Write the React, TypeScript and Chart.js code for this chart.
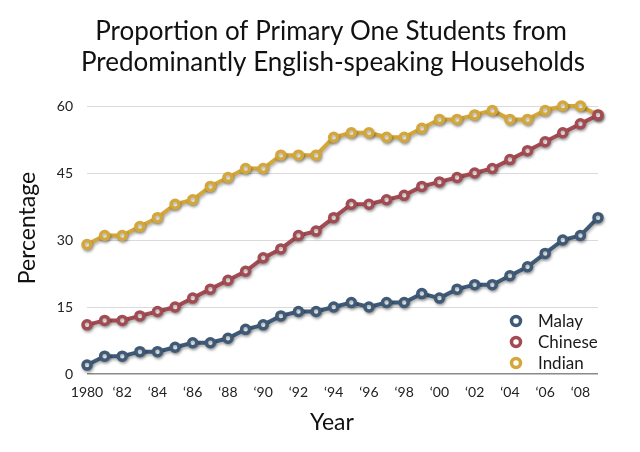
import React, { useEffect, useRef } from 'react';
import { Chart, registerables } from 'chart.js';

Chart.register(...registerables);

const years = [
  '1980', '1981', '1982', '1983', '1984', '1985', '1986', '1987', '1988', '1989',
  '1990', '1991', '1992', '1993', '1994', '1995', '1996', '1997', '1998', '1999',
  '2000', '2001', '2002', '2003', '2004', '2005', '2006', '2007', '2008', '2009',
];
const xTickLabels = ['1980', '‘82', '‘84', '‘86', '‘88', '‘90', '‘92', '‘94', '‘96', '‘98', '‘00', '‘02', '‘04', '‘06', '‘08'];
const yTickValues = [0, 15, 30, 45, 60];

const malay = [2, 4, 4, 5, 5, 6, 7, 7, 8, 10, 11, 13, 14, 14, 15, 16, 15, 16, 16, 18, 17, 19, 20, 20, 22, 24, 27, 30, 31, 35];
const chinese = [11, 12, 12, 13, 14, 15, 17, 19, 21, 23, 26, 28, 31, 32, 35, 38, 38, 39, 40, 42, 43, 44, 45, 46, 48, 50, 52, 54, 56, 58];
const indian = [29, 31, 31, 33, 35, 38, 39, 42, 44, 46, 46, 49, 49, 49, 53, 54, 54, 53, 53, 55, 57, 57, 58, 59, 57, 57, 59, 60, 60, 58];

const seriesNames = ['Malay', 'Chinese', 'Indian'];
const seriesColors = ['#3e5a77', '#a34b53', '#d3a73a'];

const titleLines = ['Proportion of Primary One Students from', 'Predominantly English-speaking Households'];
const xTitle = 'Year';
const yTitle = 'Percentage';

const FONT = 'Lato, "Open Sans", sans-serif';

export default function App() {
  const canvasRef = useRef<HTMLCanvasElement | null>(null);

  useEffect(() => {
    document.body.style.margin = '0';
    const canvas = canvasRef.current;
    if (!canvas) return;

    const shadowPlugin = {
      id: 'lineShadow',
      beforeDatasetsDraw(chart: any) {
        const ctx = chart.ctx;
        ctx.save();
        ctx.shadowColor = 'rgba(0,0,0,0.3)';
        ctx.shadowBlur = 3;
        ctx.shadowOffsetX = 1;
        ctx.shadowOffsetY = 2;
      },
      afterDatasetsDraw(chart: any) {
        chart.ctx.restore();
      },
    };

    const textPlugin = {
      id: 'customText',
      afterDraw(chart: any) {
        const ctx = chart.ctx as CanvasRenderingContext2D;
        ctx.save();
        // Title
        ctx.fillStyle = '#111';
        ctx.textAlign = 'center';
        ctx.textBaseline = 'alphabetic';
        ctx.font = `26px ${FONT}`;
        ctx.fillText(titleLines[0], 331, 40);
        ctx.fillText(titleLines[1], 333, 71);
        // X axis title
        ctx.font = `23px ${FONT}`;
        ctx.fillText(xTitle, 332, 430);
        // Y axis title
        ctx.save();
        ctx.translate(35, 228);
        ctx.rotate(-Math.PI / 2);
        ctx.font = `23px ${FONT}`;
        ctx.fillText(yTitle, 0, 0);
        ctx.restore();
        // Legend
        ctx.textAlign = 'left';
        ctx.textBaseline = 'middle';
        ctx.font = `17px ${FONT}`;
        seriesNames.forEach((name, i) => {
          const y = 321 + 21 * i;
          ctx.beginPath();
          ctx.arc(516, y, 4.5, 0, Math.PI * 2);
          ctx.fillStyle = '#fff';
          ctx.fill();
          ctx.lineWidth = 3.5;
          ctx.strokeStyle = seriesColors[i];
          ctx.stroke();
          ctx.fillStyle = '#1a1a1a';
          ctx.fillText(name, 538, y + 1);
        });
        ctx.restore();
      },
    };

    const seriesData = [malay, chinese, indian];

    const chart = new Chart(canvas, {
      type: 'line',
      data: {
        labels: years,
        datasets: seriesData.map((d, i) => ({
          label: seriesNames[i],
          data: d,
          borderColor: seriesColors[i],
          backgroundColor: '#ffffff',
          borderWidth: 4,
          pointRadius: 4,
          pointBorderWidth: 3.5,
          pointBackgroundColor: '#ffffff',
          pointBorderColor: seriesColors[i],
          tension: 0,
          clip: false as any,
        })),
      },
      options: {
        animation: false,
        responsive: false,
        maintainAspectRatio: false,
        devicePixelRatio: 1,
        layout: { padding: { top: 106, left: 0, right: 42, bottom: 0 } },
        plugins: {
          legend: { display: false },
          title: { display: false },
          tooltip: { enabled: false },
        },
        scales: {
          x: {
            type: 'category',
            offset: false,
            grid: { display: false, drawTicks: false },
            border: { display: false },
            ticks: {
              autoSkip: false,
              maxRotation: 0,
              minRotation: 0,
              padding: 10,
              color: '#222',
              font: { family: FONT, size: 14 },
              callback: (_v: any, idx: number) => (idx % 2 === 0 ? xTickLabels[idx / 2] : ''),
            },
            afterFit: (scale: any) => {
              scale.height = 78;
            },
          },
          y: {
            min: 0,
            max: 60,
            afterBuildTicks: (scale: any) => {
              scale.ticks = yTickValues.map((v) => ({ value: v }));
            },
            grid: {
              drawTicks: false,
              color: (c: any) => (c.tick && c.tick.value === 0 ? '#8a8a8a' : '#dadada'),
              lineWidth: (c: any) => (c.tick && c.tick.value === 0 ? 1.5 : 1),
            },
            border: { display: false },
            ticks: {
              padding: 14,
              color: '#222',
              font: { family: FONT, size: 14 },
            },
            afterFit: (scale: any) => {
              scale.width = 87;
            },
          },
        },
      },
      plugins: [shadowPlugin, textPlugin],
    });

    return () => chart.destroy();
  }, []);

  return (
    <div style={{ width: 640, height: 452, background: '#fff' }}>
      <canvas ref={canvasRef} width={640} height={452} />
    </div>
  );
}
